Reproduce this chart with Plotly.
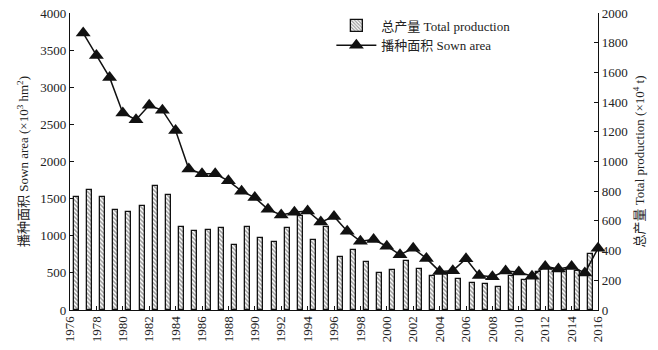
import plotly.graph_objects as go

years = list(range(1977, 2017))
axis_tick_years = list(range(1976, 2017, 2))

# Total production (x10^4 t), right axis
production = [761, 809, 764, 671, 662, 698, 836, 773, 561, 532,
              542, 551, 441, 561, 486, 459, 551, 635, 469, 561,
              357, 404, 321, 249, 267, 331, 276, 231, 246, 210,
              184, 174, 156, 231, 203, 253, 273, 267, 260, 380]

# Sown area (x10^3 hm^2), left axis
sown_area = [3729, 3427, 3132, 2654, 2563, 2757, 2689, 2418, 1898, 1835,
             1835, 1740, 1600, 1514, 1356, 1280, 1315, 1333, 1184, 1260,
             1062, 926, 949, 859, 745, 830, 695, 520, 530, 690,
             465, 448, 525, 512, 456, 587, 552, 587, 498, 830]

FONT = "Liberation Serif, Times New Roman, Noto Sans CJK SC, serif"
INK = "#111111"

fig = go.Figure()

fig.add_trace(go.Bar(
    x=years, y=production, name="总产量 Total production",
    xaxis="x", yaxis="y", width=0.38,
    marker=dict(color="white",
                line=dict(color=INK, width=1.3),
                pattern=dict(shape="\\", size=3, solidity=0.5,
                             fgcolor="#3a3a3a", bgcolor="white")),
))

fig.add_trace(go.Scatter(
    x=years, y=sown_area, name="播种面积 Sown area",
    xaxis="x2", yaxis="y2", mode="lines+markers",
    line=dict(color=INK, width=1.5),
    marker=dict(symbol="triangle-up", size=13, color=INK),
    cliponaxis=False,
))

axis_common = dict(showgrid=False, zeroline=False, showline=True,
                   linecolor=INK, linewidth=1.3, ticks="inside",
                   ticklen=4, tickcolor=INK, tickwidth=1.3,
                   automargin=False,
                   tickfont=dict(family=FONT, size=13, color="#222222"))

fig.update_layout(
    width=658, height=350,
    margin=dict(l=70, r=60, t=12, b=40),
    paper_bgcolor="white", plot_bgcolor="white",
    font=dict(family=FONT, size=13, color="#222222"),
    bargap=0,
    showlegend=True,
    legend=dict(x=0.495, y=1.005, xanchor="left", yanchor="top",
                bgcolor="rgba(0,0,0,0)", font=dict(family=FONT, size=13),
                tracegroupgap=0, itemwidth=40),
    xaxis=dict(range=[1976.545, 2016.545], visible=False, automargin=False),
    xaxis2=dict(overlaying="x", anchor="y2", side="bottom",
                range=[1976, 2016], tickvals=axis_tick_years,
                ticktext=[str(y) for y in axis_tick_years],
                tickangle=-90, **axis_common),
    yaxis=dict(side="right", range=[0, 2000], dtick=200,
               title=dict(text="总产量 Total production (×10<sup>4</sup> t)",
                          standoff=8, font=dict(family=FONT, size=13)),
               **axis_common),
    yaxis2=dict(overlaying="y", side="left", anchor="x2",
                range=[0, 4000], dtick=500,
                title=dict(text="播种面积 Sown area (×10<sup>3</sup> hm<sup>2</sup>)",
                           standoff=8, font=dict(family=FONT, size=13)),
                **axis_common),
)

fig.write_html("out.html")
